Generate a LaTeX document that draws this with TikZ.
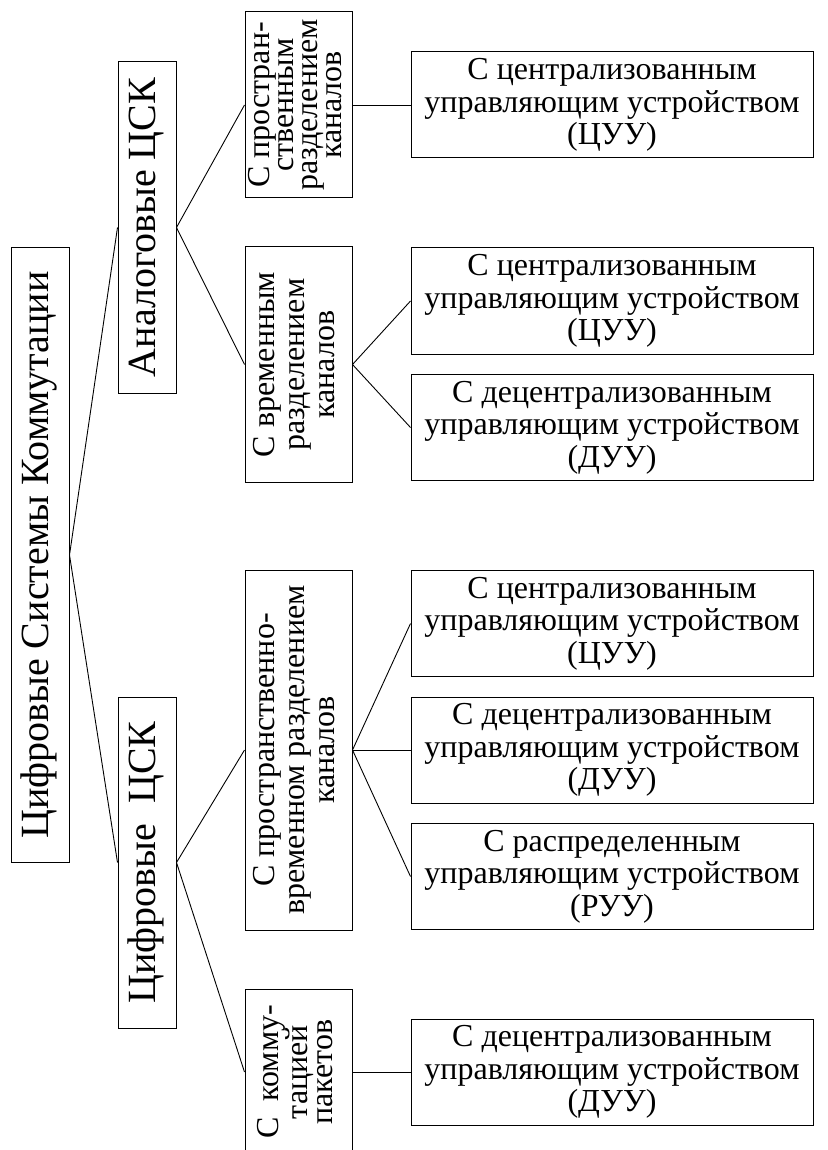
\documentclass[tikz,border=0pt]{standalone}
\usepackage{fontspec}
\setmainfont{Liberation Serif}
\usepackage{graphicx}
\newcommand\rotlbl[2]{\rotatebox{90}{#1\begin{tabular}{@{}c@{}}#2\end{tabular}}}
\begin{document}
\begin{tikzpicture}[x=1pt,y=-1pt,
  box/.style={draw=black, line width=1pt, inner sep=0pt, anchor=center},
  big/.style={box, minimum width=58pt},
  mid/.style={box, minimum width=107pt},
  leaf/.style={box, minimum width=402pt, minimum height=106pt, align=center,
    font=\fontsize{32}{32.5}\selectfont},
  link/.style={draw=black, line width=0.9pt}]
\useasboundingbox (0,0) rectangle (827,1150);
% level 0
\node[big, minimum height=614pt] (root) at (40,555)
  {\rotlbl{\fontsize{40}{44}\selectfont}{Цифровые Системы Коммутации}};
% level 1
\node[big, minimum height=331pt] (analog) at (147,227.5)
  {\rotlbl{\fontsize{40}{44}\selectfont}{Аналоговые ЦСК}};
\node[big, minimum height=331pt] (digital) at (147,862.5)
  {\rotlbl{\fontsize{40}{44}\selectfont}{Цифровые\ \ ЦСК}};
% level 2
\node[mid, minimum height=186pt] (space) at (298.5,105)
  {\rotlbl{\fontsize{32}{24}\selectfont}{С простран-\\ственным\\разделением\\каналов}};
\node[mid, minimum height=235pt] (time) at (298.5,364.5)
  {\rotlbl{\fontsize{32}{30}\selectfont}{С временным\\разделением\\каналов}};
\node[mid, minimum height=360pt] (spacetime) at (298.5,750)
  {\rotlbl{\fontsize{32}{30}\selectfont}{С пространственно-\\временном разделением\\каналов}};
\node[mid, minimum height=166pt] (packet) at (298.5,1072)
  {\rotlbl{\fontsize{32}{25}\selectfont}{С\ \ комму-\\тацией\\пакетов}};
% level 3
\node[leaf] (r1) at (612,105) {С централизованным\\управляющим устройством\\(ЦУУ)};
\node[leaf] (r2) at (612,301) {С централизованным\\управляющим устройством\\(ЦУУ)};
\node[leaf] (r3) at (612,427.5) {С децентрализованным\\управляющим устройством\\(ДУУ)};
\node[leaf] (r4) at (612,623.5) {С централизованным\\управляющим устройством\\(ЦУУ)};
\node[leaf] (r5) at (612,750) {С децентрализованным\\управляющим устройством\\(ДУУ)};
\node[leaf] (r6) at (612,876.5) {С распределенным\\управляющим устройством\\(РУУ)};
\node[leaf] (r7) at (612,1072) {С децентрализованным\\управляющим устройством\\(ДУУ)};
% connectors
\draw[link] (root.east) -- (analog.west);
\draw[link] (root.east) -- (digital.west);
\draw[link] (analog.east) -- (space.west);
\draw[link] (analog.east) -- (time.west);
\draw[link] (digital.east) -- (spacetime.west);
\draw[link] (digital.east) -- (packet.west);
\draw[link] (space.east) -- (r1.west);
\draw[link] (time.east) -- (r2.west);
\draw[link] (time.east) -- (r3.west);
\draw[link] (spacetime.east) -- (r4.west);
\draw[link] (spacetime.east) -- (r5.west);
\draw[link] (spacetime.east) -- (r6.west);
\draw[link] (packet.east) -- (r7.west);
\end{tikzpicture}
\end{document}
